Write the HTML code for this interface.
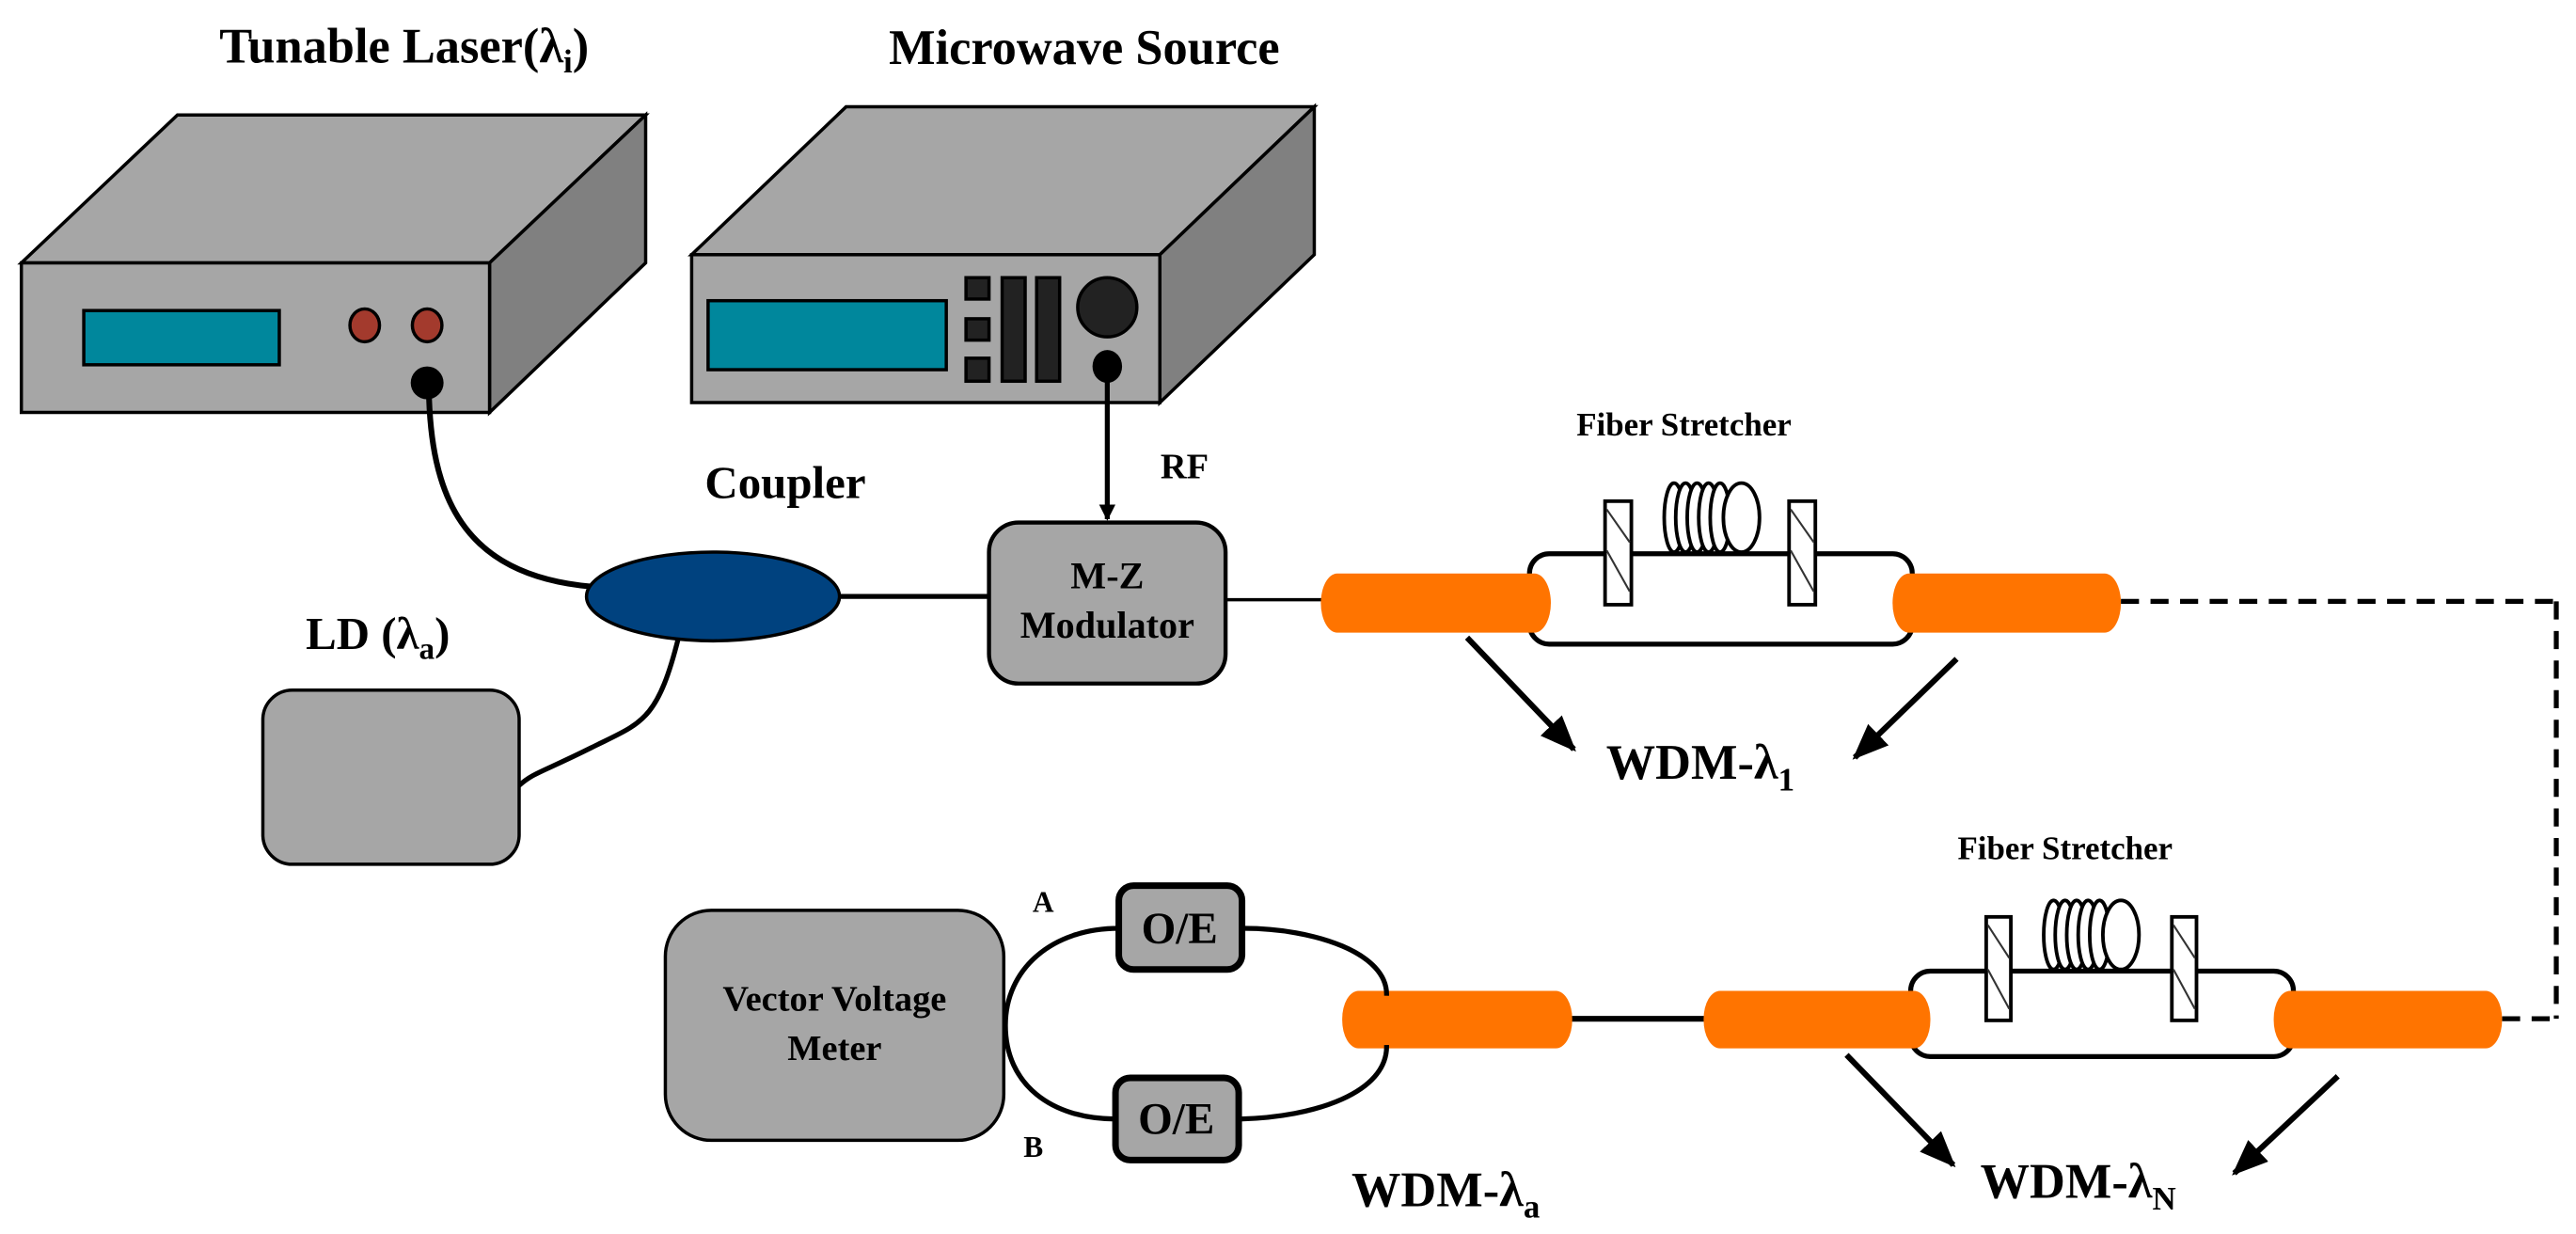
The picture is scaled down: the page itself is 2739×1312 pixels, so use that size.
<!DOCTYPE html>
<html><head><meta charset="utf-8"><style>
html,body{margin:0;padding:0;background:#fff;}
svg{display:block;}
text{font-family:"Liberation Serif","Times New Roman","DejaVu Serif",serif;font-weight:bold;fill:#000;}
</style></head><body>
<svg width="2739" height="1312" viewBox="0 0 1568 751" preserveAspectRatio="none" xmlns="http://www.w3.org/2000/svg" font-family="Liberation Serif, serif">
<defs>
<marker id="ah" markerWidth="10" markerHeight="10" refX="9" refY="5" orient="auto" markerUnits="userSpaceOnUse" viewBox="0 0 10 10">
<path d="M0,0 L10,5 L0,10 z" fill="#000"/></marker>
<marker id="ah2" markerWidth="22" markerHeight="18" refX="20" refY="9" orient="auto" markerUnits="userSpaceOnUse" viewBox="0 0 22 18">
<path d="M0,0 L22,9 L0,18 z" fill="#000"/></marker>
</defs>

<!-- Titles -->
<text x="246" y="38" font-size="30" text-anchor="middle" font-family="Liberation Serif, serif">Tunable Laser(λ<tspan font-size="20" dy="6">i</tspan><tspan dy="-6">)</tspan></text>
<text x="660" y="39" font-size="30" text-anchor="middle" font-family="Liberation Serif, serif">Microwave Source</text>

<!-- Tunable laser box -->
<g stroke="#000" stroke-width="2" stroke-linejoin="miter">
<polygon points="13,160 108,70 393,70 298,160" fill="#a6a6a6"/>
<polygon points="298,160 393,70 393,160 298,251" fill="#808080"/>
<rect x="13" y="160" width="285" height="91" fill="#a6a6a6"/>
<rect x="51" y="189" width="119" height="33" fill="#00879c"/>
<ellipse cx="222" cy="198" rx="9" ry="10" fill="#a33a2d"/>
<ellipse cx="260" cy="198" rx="9" ry="10" fill="#a33a2d"/>
</g>
<ellipse cx="260" cy="233" rx="10" ry="10" fill="#000"/>

<!-- Microwave source -->
<g stroke="#000" stroke-width="2">
<polygon points="421,155 515,65 800,65 706,155" fill="#a6a6a6"/>
<polygon points="706,155 800,65 800,155 706,245" fill="#808080"/>
<rect x="421" y="155" width="285" height="90" fill="#a6a6a6"/>
<rect x="431" y="183" width="145" height="42" fill="#00879c"/>
<rect x="588" y="169" width="14" height="13" fill="#222"/>
<rect x="588" y="194" width="14" height="13" fill="#222"/>
<rect x="588" y="218" width="14" height="14" fill="#222"/>
<rect x="610" y="169" width="14" height="63" fill="#222"/>
<rect x="631" y="169" width="14" height="63" fill="#222"/>
<circle cx="674" cy="187" r="18" fill="#222"/>
</g>
<ellipse cx="674" cy="223" rx="9" ry="10" fill="#000"/>

<!-- RF arrow -->
<line x1="674" y1="225" x2="674" y2="316" stroke="#000" stroke-width="3" marker-end="url(#ah)"/>
<text x="721" y="291" font-size="22" text-anchor="middle" font-family="Liberation Serif, serif">RF</text>

<path d="M261,236 C262,300 280,350 360,357" fill="none" stroke="#000" stroke-width="3.5"/>
<path d="M413,388 C400,440 390,440 360,455 C330,470 325,470 316,478" fill="none" stroke="#000" stroke-width="3"/>

<text x="478" y="303" font-size="28" text-anchor="middle" font-family="Liberation Serif, serif">Coupler</text>
<ellipse cx="434" cy="363" rx="77" ry="27" fill="#00427f" stroke="#000" stroke-width="2"/>

<text x="230" y="395" font-size="28" text-anchor="middle" font-family="Liberation Serif, serif">LD (λ<tspan font-size="19" dy="6">a</tspan><tspan dy="-6">)</tspan></text>
<rect x="160" y="420" width="156" height="106" rx="18" fill="#a6a6a6" stroke="#000" stroke-width="2"/>

<line x1="511" y1="363" x2="602" y2="363" stroke="#000" stroke-width="3"/>
<line x1="746" y1="365" x2="808" y2="365" stroke="#000" stroke-width="2"/>
<rect x="602" y="318" width="144" height="98" rx="18" fill="#a6a6a6" stroke="#000" stroke-width="2.5"/>
<text x="674" y="358" font-size="23" text-anchor="middle" font-family="Liberation Serif, serif">M-Z</text>
<text x="674" y="388" font-size="23" text-anchor="middle" font-family="Liberation Serif, serif">Modulator</text>

<!-- Upper fiber stretcher -->
<text x="1025" y="265" font-size="20" text-anchor="middle" font-family="Liberation Serif, serif">Fiber Stretcher</text>
<rect x="931" y="337" width="233" height="55" rx="12" fill="none" stroke="#000" stroke-width="3"/>
<g stroke="#000" stroke-width="2.2" fill="#fff">
<ellipse cx="1019" cy="315" rx="6" ry="21"/>
<ellipse cx="1026" cy="315" rx="6" ry="21"/>
<ellipse cx="1033" cy="315" rx="6" ry="21"/>
<ellipse cx="1040" cy="315" rx="6" ry="21"/>
<ellipse cx="1047" cy="315" rx="6" ry="21"/>
<ellipse cx="1060" cy="315" rx="11" ry="21"/>
<rect x="977" y="305" width="16" height="63"/>
<rect x="1089" y="305" width="16" height="63"/>
</g>
<g stroke="#333" stroke-width="1.2">
<line x1="978" y1="310" x2="992" y2="330"/><line x1="978" y1="335" x2="992" y2="360"/>
<line x1="1090" y1="310" x2="1104" y2="330"/><line x1="1090" y1="335" x2="1104" y2="360"/>
</g>
<rect x="804" y="349" width="140" height="36" rx="10" ry="18" fill="#ff7400"/>
<rect x="1152" y="349" width="139" height="36" rx="10" ry="18" fill="#ff7400"/>
<line x1="1291" y1="366" x2="1556" y2="366" stroke="#000" stroke-width="3" stroke-dasharray="11,7"/>
<line x1="1556" y1="366" x2="1556" y2="620" stroke="#000" stroke-width="3" stroke-dasharray="11,7"/>
<line x1="1523" y1="620" x2="1556" y2="620" stroke="#000" stroke-width="3" stroke-dasharray="11,7"/>
<line x1="893" y1="388" x2="958" y2="456" stroke="#000" stroke-width="3.5" marker-end="url(#ah2)"/>
<line x1="1191" y1="401" x2="1129" y2="461" stroke="#000" stroke-width="3.5" marker-end="url(#ah2)"/>
<text x="1035" y="474" font-size="30" text-anchor="middle" font-family="Liberation Serif, serif">WDM-λ<tspan font-size="20" dy="7">1</tspan></text>

<!-- Lower fiber stretcher -->
<text x="1257" y="523" font-size="20" text-anchor="middle" font-family="Liberation Serif, serif">Fiber Stretcher</text>
<rect x="1163" y="591" width="233" height="52" rx="12" fill="none" stroke="#000" stroke-width="3"/>
<g stroke="#000" stroke-width="2.2" fill="#fff">
<ellipse cx="1250" cy="569" rx="6" ry="21"/>
<ellipse cx="1257" cy="569" rx="6" ry="21"/>
<ellipse cx="1264" cy="569" rx="6" ry="21"/>
<ellipse cx="1271" cy="569" rx="6" ry="21"/>
<ellipse cx="1278" cy="569" rx="6" ry="21"/>
<ellipse cx="1291" cy="569" rx="11" ry="21"/>
<rect x="1209" y="558" width="15" height="63"/>
<rect x="1322" y="558" width="15" height="63"/>
</g>
<g stroke="#333" stroke-width="1.2">
<line x1="1210" y1="563" x2="1223" y2="583"/><line x1="1210" y1="590" x2="1223" y2="614"/>
<line x1="1323" y1="563" x2="1336" y2="583"/><line x1="1323" y1="590" x2="1336" y2="614"/>
</g>
<line x1="956" y1="620" x2="1040" y2="620" stroke="#000" stroke-width="3.5"/>
<rect x="817" y="603" width="140" height="35" rx="10" ry="17" fill="#ff7400"/>
<rect x="1037" y="603" width="138" height="35" rx="10" ry="17" fill="#ff7400"/>
<rect x="1384" y="603" width="139" height="35" rx="10" ry="17" fill="#ff7400"/>
<line x1="1124" y1="642" x2="1189" y2="709" stroke="#000" stroke-width="3.5" marker-end="url(#ah2)"/>
<line x1="1423" y1="655" x2="1360" y2="714" stroke="#000" stroke-width="3.5" marker-end="url(#ah2)"/>
<text x="1265" y="729" font-size="30" text-anchor="middle" font-family="Liberation Serif, serif">WDM-λ<tspan font-size="20" dy="7">N</tspan></text>
<text x="880" y="734" font-size="30" text-anchor="middle" font-family="Liberation Serif, serif">WDM-λ<tspan font-size="20" dy="7">a</tspan></text>

<!-- VVM and O/E -->
<path d="M757,565 C800,565 845,580 844,606" fill="none" stroke="#000" stroke-width="3"/>
<path d="M844,636 C845,665 800,680 755,681" fill="none" stroke="#000" stroke-width="3"/>
<path d="M681,565 C640,565 612,590 612,624 C612,660 640,681 679,681" fill="none" stroke="#000" stroke-width="3"/>
<rect x="405" y="554" width="206" height="140" rx="28" fill="#a6a6a6" stroke="#000" stroke-width="2"/>
<text x="508" y="615" font-size="22" text-anchor="middle" font-family="Liberation Serif, serif">Vector Voltage</text>
<text x="508" y="645" font-size="22" text-anchor="middle" font-family="Liberation Serif, serif">Meter</text>
<rect x="681" y="539" width="75" height="51" rx="9" fill="#a6a6a6" stroke="#000" stroke-width="4"/>
<text x="718" y="574" font-size="27" text-anchor="middle" font-family="Liberation Serif, serif">O/E</text>
<rect x="679" y="656" width="75" height="50" rx="9" fill="#a6a6a6" stroke="#000" stroke-width="4"/>
<text x="716" y="690" font-size="27" text-anchor="middle" font-family="Liberation Serif, serif">O/E</text>
<text x="635" y="555" font-size="18" text-anchor="middle" font-family="Liberation Serif, serif">A</text>
<text x="629" y="704" font-size="18" text-anchor="middle" font-family="Liberation Serif, serif">B</text>
</svg>
</body></html>
